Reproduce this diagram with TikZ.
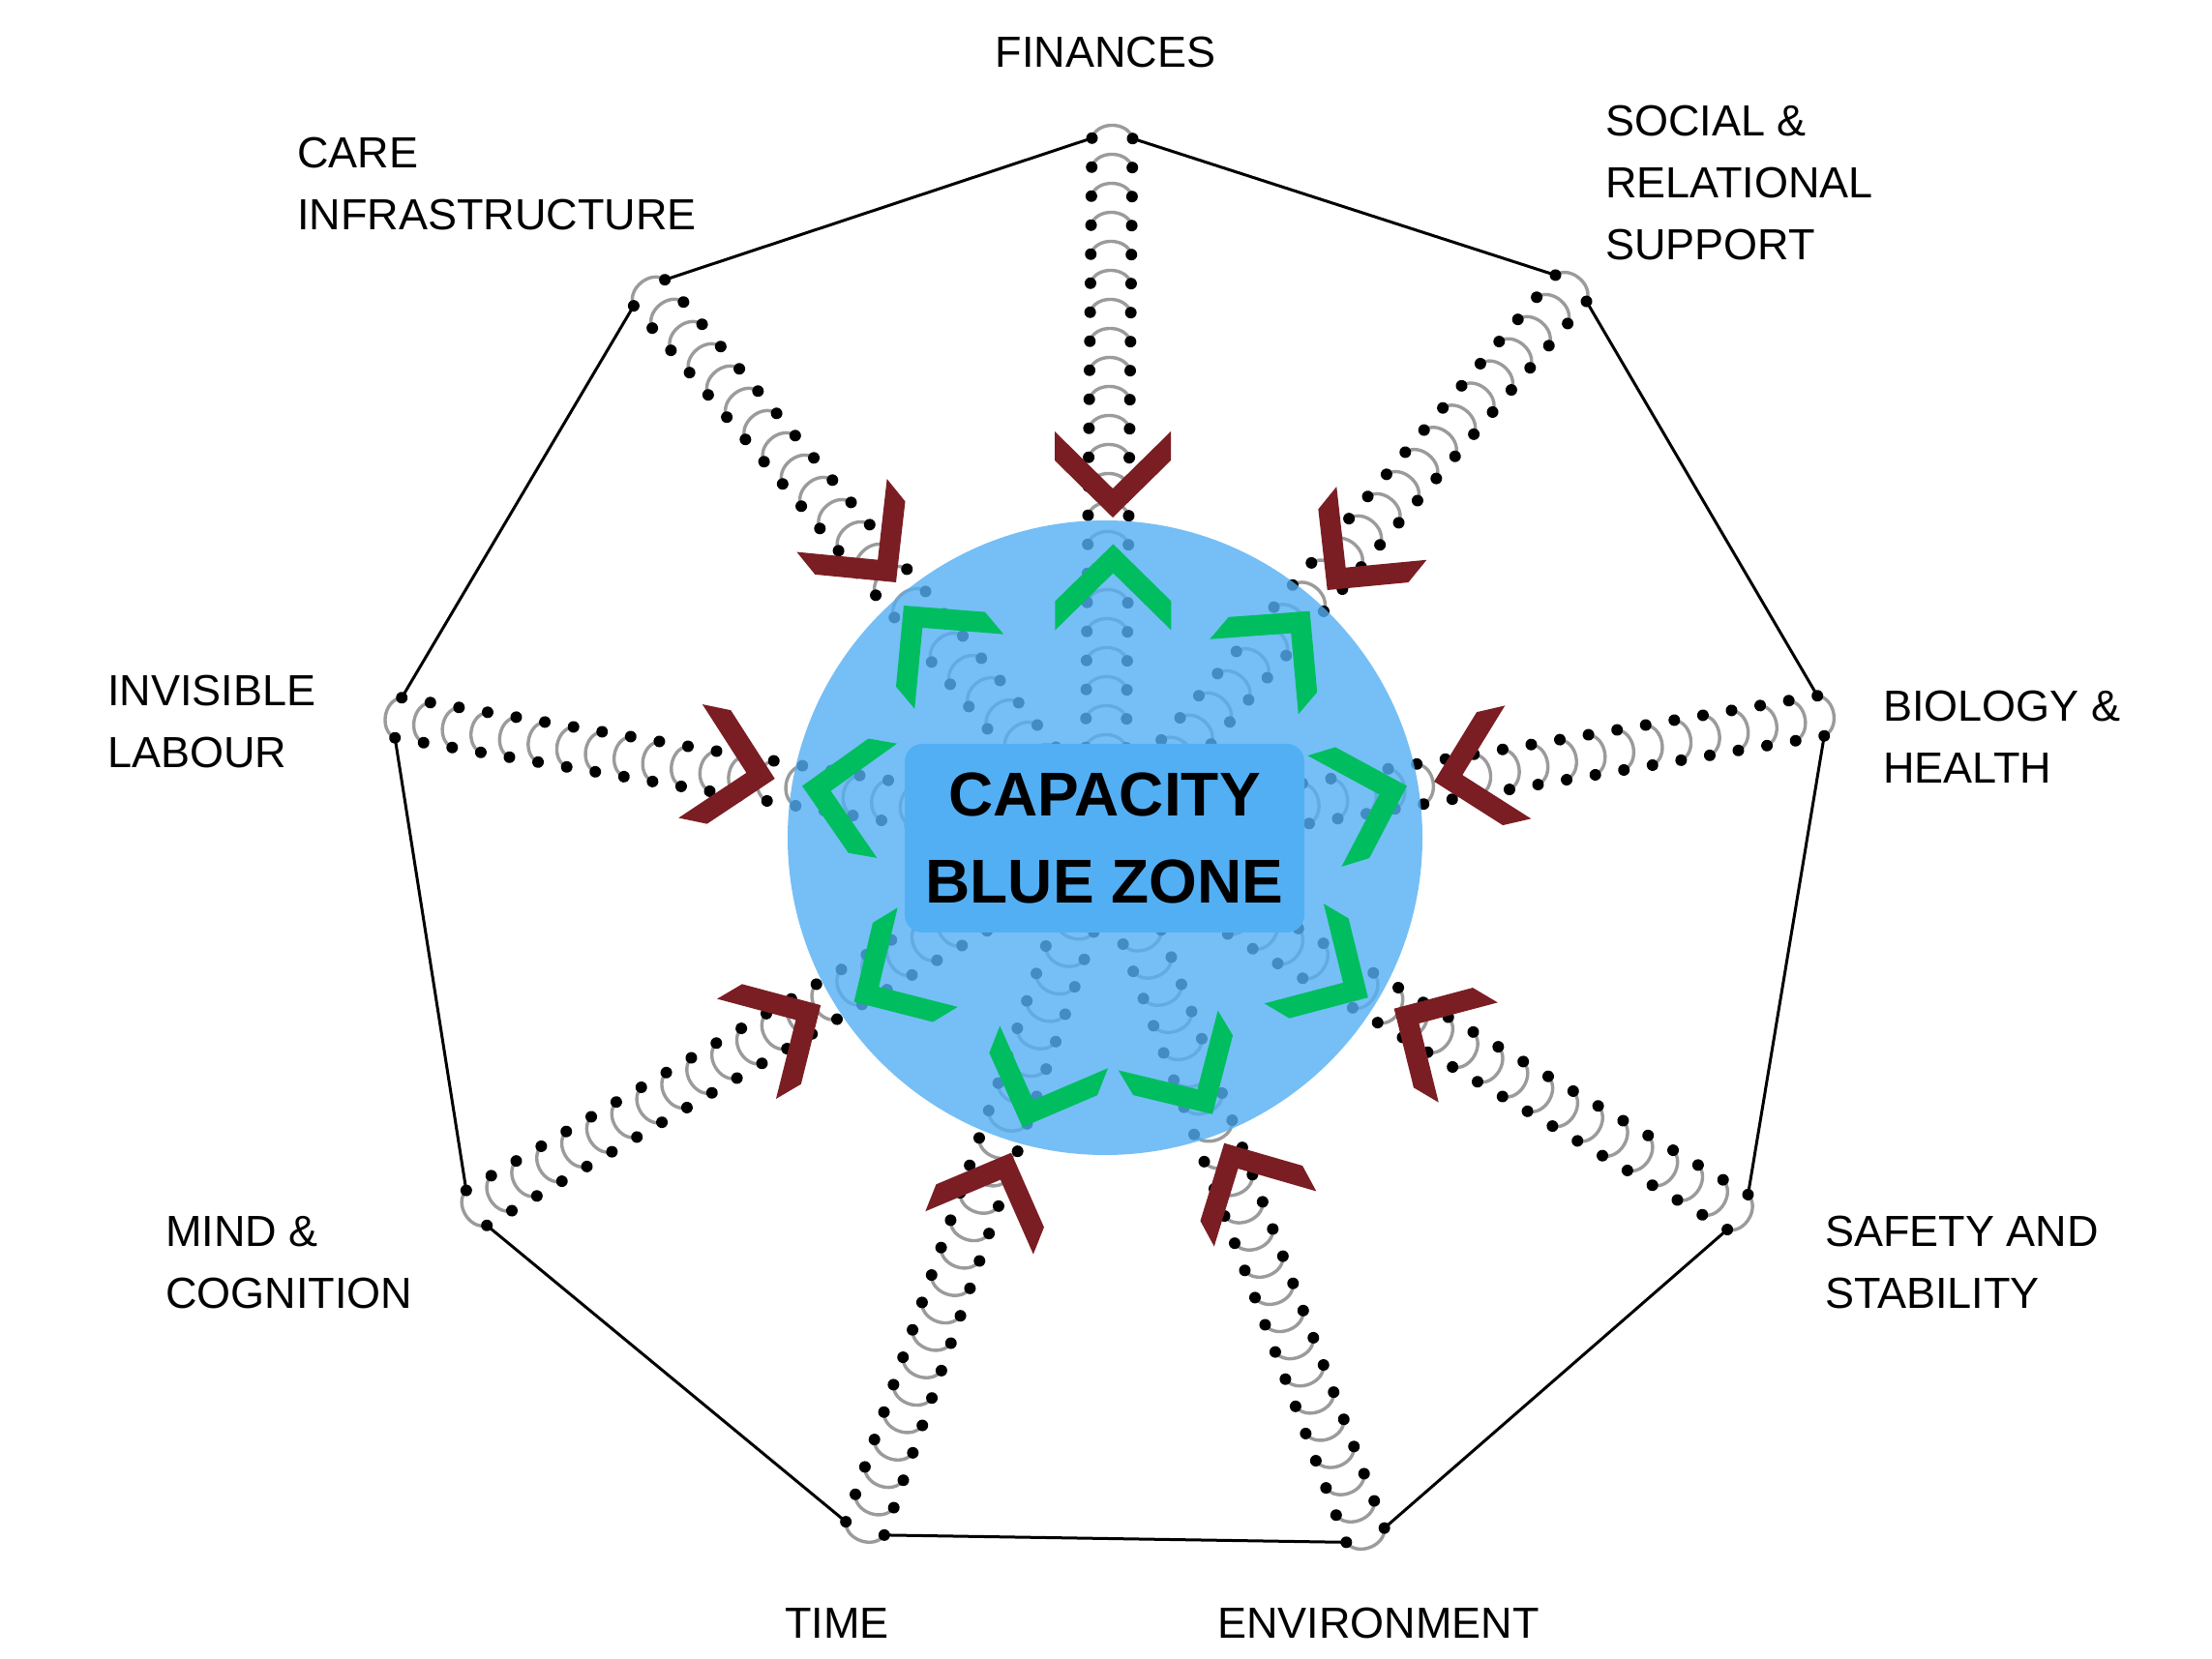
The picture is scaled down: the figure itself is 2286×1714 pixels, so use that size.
\documentclass[tikz,border=0pt]{standalone}
\usepackage{fontspec}
\setmainfont{Liberation Sans}
\definecolor{hookgray}{RGB}{155,155,155}
\definecolor{zoneblue}{RGB}{83,175,244}
\definecolor{chevred}{RGB}{122,30,36}
\definecolor{chevgreen}{RGB}{0,190,95}
\begin{document}
\begin{tikzpicture}[x=1pt,y=1pt,
  hookarc/.style={draw=hookgray, line width=3.4pt},
  edge/.style={draw=black, line width=3pt},
  lbl/.style={font=\fontsize{45}{64}\selectfont, inner sep=0pt, align=left, text=black},
  redchev/.style={fill=chevred},
  greenchev/.style={fill=chevgreen}]
\useasboundingbox (0,0) rectangle (2286,1714);
% spring chains
\foreach \n/\vx/\vy in {1/1149.5/1571, 2/1623.5/1416, 3/1881.7/974, 4/1795.8/461, 5/1411/127, 6/894/134, 7/492.5/465.3, 8/411.7/972, 9/671/1411.3}{
  \pgfmathsetmacro\ang{atan2(848-\vy,1142-\vx)}
  \pgfmathsetmacro\len{100*veclen((1142-\vx)/100,(848-\vy)/100)}
  \pgfmathtruncatemacro\nh{(\len-40)/30}
  \begin{scope}[shift={(\vx,\vy)}, rotate=\ang]
    \foreach \i in {0,...,\nh}{
      \pgfmathsetmacro\px{30*\i}
      \draw[hookarc] (\px,-21) .. controls (\px-18,-16) and (\px-18,16) .. (\px,21);
      \fill (\px,-21) circle[radius=6] (\px,21) circle[radius=6];
    }
    \coordinate (a\n) at (0,21);
    \coordinate (b\n) at (0,-21);
  \end{scope}
}
% outer polygon
\draw[edge] (a1) -- (b2) (a2) -- (b3) (a3) -- (b4) (a4) -- (b5) (a5) -- (b6)
  (a6) -- (b7) (a7) -- (b8) (a8) -- (b9) (a9) -- (b1);
% blue zone
\node[circle, fill=zoneblue, fill opacity=0.8, minimum size=656pt, inner sep=0pt] (zone) at (1142,848) {};
% green chevrons (pointing outward)
\foreach \x/\y/\a in {1150.4/1151.5/90, 1353.6/1082.3/49.7, 1454/901.5/17, 1413.8/682.8/-30.7, 1253/562.2/-59, 1056.7/548.8/-111.4, 882.6/678.3/-148.8, 829/901.5/170.1, 934/1088/130}{
  \fill[greenchev, shift={(\x,\y)}, rotate=\a] (0,0) -- (-59,60) -- (-89,60) -- (-30,0) -- (-89,-60) -- (-59,-60) -- cycle;
}
% red chevrons (pointing inward)
\foreach \x/\y/\a in {1150/1179/-90, 1371.7/1104/230.9, 1482.1/906.1/193, 1440.7/671.3/149.4, 1265.2/532.3/118.4, 1045/522.3/68.3, 848.2/674.9/30.5, 800.7/909/-11.8, 926/1112/-51}{
  \fill[redchev, shift={(\x,\y)}, rotate=\a] (0,0) -- (-59,60) -- (-89,60) -- (-30,0) -- (-89,-60) -- (-59,-60) -- cycle;
}
% central label
\node[fill=zoneblue, rounded corners=18pt, minimum width=413pt, minimum height=195pt, inner sep=0pt,
  align=center, font=\bfseries\fontsize{64}{90}\selectfont] (box) at (1141.5,847.5) {CAPACITY\\BLUE ZONE};
% labels (base anchor = baseline of the last line)
\node[lbl, anchor=base] (l1) at (1142.5,1644) {FINANCES};
\node[lbl, anchor=base west] (l2) at (1659,1445.5) {SOCIAL \&\\RELATIONAL\\SUPPORT};
\node[lbl, anchor=base west] (l3) at (1946,904) {BIOLOGY \&\\HEALTH};
\node[lbl, anchor=base west] (l4) at (1886,361) {SAFETY AND\\STABILITY};
\node[lbl, anchor=base west] (l5) at (1258,21) {ENVIRONMENT};
\node[lbl, anchor=base west] (l6) at (811,21) {TIME};
\node[lbl, anchor=base west] (l7) at (171,361) {MIND \&\\COGNITION};
\node[lbl, anchor=base west] (l8) at (111,920) {INVISIBLE\\LABOUR};
\node[lbl, anchor=base west] (l9) at (307,1476.7) {CARE\\INFRASTRUCTURE};
\end{tikzpicture}
\end{document}
